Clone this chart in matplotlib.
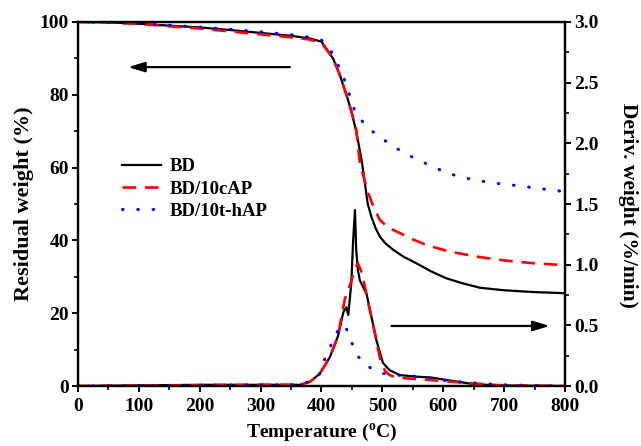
import matplotlib
matplotlib.use("Agg")
import matplotlib.pyplot as plt
from matplotlib.ticker import MultipleLocator

plt.rcParams['font.family'] = ['Liberation Serif', 'DejaVu Serif']
plt.rcParams['font.weight'] = 'bold'
plt.rcParams['mathtext.fontset'] = 'custom'
plt.rcParams['mathtext.rm'] = 'Liberation Serif:bold'
plt.rcParams['mathtext.bf'] = 'Liberation Serif:bold'

series_names = ["BD", "BD/10cAP", "BD/10t-hAP"]

# TGA residual weight (%)
bd_w_T = [0, 50, 100, 150, 200, 250, 300, 350, 380, 400, 419, 430, 441, 449, 457, 466, 471, 476, 482, 489, 496, 505, 518, 535, 556, 580, 605, 630, 660, 700, 750, 800]
bd_w = [100, 99.9, 99.5, 99.0, 98.5, 97.8, 97.0, 96.2, 95.5, 94.6, 90.0, 85.5, 80.0, 75.5, 70.0, 62.0, 56.0, 50.0, 46.5, 43.3, 41.0, 39.2, 37.4, 35.5, 33.7, 31.5, 29.6, 28.3, 27.0, 26.3, 25.8, 25.5]

cap_w_T = [0, 50, 100, 150, 200, 250, 300, 350, 380, 400, 419, 430, 441, 449, 457, 463, 470, 477, 486, 496, 510, 529, 550, 573, 611, 657, 700, 750, 800]
cap_w = [100, 99.9, 99.5, 98.8, 98.2, 97.4, 96.6, 95.8, 95.2, 94.3, 90.0, 85.5, 80.0, 75.5, 70.5, 61.2, 57.0, 52.9, 49.0, 45.6, 43.5, 42.0, 40.3, 38.7, 36.9, 35.5, 34.5, 33.7, 33.2]

thap_w_T = [0, 50, 100, 150, 200, 250, 300, 350, 380, 400, 414, 425, 436, 447, 455, 465, 474, 499, 523, 548, 573, 597, 622, 646, 680, 714, 760, 800]
thap_w = [100, 99.9, 99.6, 99.1, 98.6, 98.0, 97.3, 96.5, 95.8, 95.0, 92.5, 89.0, 85.0, 79.5, 75.4, 73.2, 71.2, 68.0, 65.3, 63.0, 61.0, 59.2, 57.7, 56.8, 55.8, 55.2, 54.2, 53.4]

# DTG derivative weight (%/min)
bd_d_T = [0, 100, 200, 300, 350, 365, 381, 397, 414, 427, 436, 441, 444, 449, 452, 455, 457, 460, 463, 468, 474, 482, 490, 501, 512, 529, 556, 580, 605, 644, 676, 720, 800]
bd_d = [0, 0.005, 0.01, 0.01, 0.01, 0.01, 0.035, 0.10, 0.24, 0.41, 0.61, 0.65, 0.585, 0.85, 1.20, 1.45, 1.12, 0.95, 0.87, 0.82, 0.76, 0.57, 0.38, 0.19, 0.13, 0.09, 0.077, 0.07, 0.05, 0.02, 0.008, 0.003, 0.0]

cap_d_T = [0, 300, 365, 381, 397, 414, 427, 438, 448, 455, 460, 465, 470, 477, 483, 488, 493, 498, 505, 512, 523, 540, 578, 633, 688, 800]
cap_d = [0, 0.01, 0.01, 0.035, 0.10, 0.24, 0.41, 0.71, 0.85, 0.97, 1.01, 0.95, 0.85, 0.68, 0.55, 0.43, 0.30, 0.19, 0.12, 0.09, 0.07, 0.063, 0.05, 0.027, 0.008, 0.0]

thap_d_T = [0, 300, 365, 381, 397, 406, 416, 425, 433, 438, 443, 447, 452, 457, 465, 477, 488, 498, 523, 550, 580, 605, 633, 660, 690, 714, 800]
thap_d = [0, 0.01, 0.01, 0.04, 0.10, 0.23, 0.34, 0.44, 0.50, 0.50, 0.45, 0.39, 0.33, 0.27, 0.21, 0.16, 0.13, 0.105, 0.09, 0.082, 0.065, 0.044, 0.032, 0.022, 0.012, 0.008, 0.0]

fig = plt.figure(figsize=(6.41, 4.46), dpi=100)
ax = fig.add_axes([0.1217, 0.1345, 0.7597, 0.8162])
ax2 = ax.twinx()

red_dash = (0, (5.2, 3.3))
blue_dot = (0, (0.2, 4.8))

l1, = ax.plot(bd_w_T, bd_w, color='black', lw=1.6, label=series_names[0])
l2, = ax.plot(cap_w_T, cap_w, color='#ff0000', lw=1.9, linestyle=red_dash, label=series_names[1])
l3, = ax.plot(thap_w_T, thap_w, color='#0000ff', lw=2.2, linestyle=blue_dot, dash_capstyle='round', label=series_names[2])

ax2.plot(bd_d_T, bd_d, color='black', lw=1.6)
ax2.plot(cap_d_T, cap_d, color='#ff0000', lw=1.9, linestyle=red_dash)
ax2.plot(thap_d_T, thap_d, color='#0000ff', lw=2.2, linestyle=blue_dot, dash_capstyle='round')

ax.set_xlim(0, 800)
ax.set_ylim(0, 100)
ax2.set_ylim(0, 3.0)

ax.xaxis.set_major_locator(MultipleLocator(100))
ax.xaxis.set_minor_locator(MultipleLocator(50))
ax.yaxis.set_major_locator(MultipleLocator(20))
ax.yaxis.set_minor_locator(MultipleLocator(10))
ax2.yaxis.set_major_locator(MultipleLocator(0.5))
ax2.yaxis.set_minor_locator(MultipleLocator(0.25))
ax2.set_yticks([0, 0.5, 1.0, 1.5, 2.0, 2.5, 3.0])
ax2.set_yticklabels(["0.0", "0.5", "1.0", "1.5", "2.0", "2.5", "3.0"])

for a in (ax, ax2):
    for s in a.spines.values():
        s.set_linewidth(1.6)
    a.tick_params(which='major', direction='out', length=4.5, width=1.4, labelsize=14, pad=2)
    a.tick_params(which='minor', direction='out', length=3, width=1.2)
ax.tick_params(axis='y', which='both', right=False)
ax.tick_params(axis='x', which='both', top=False)
ax.tick_params(axis='x', which='major', pad=4)

ax.set_xlabel("Temperature ($^{\\rm o}$C)", fontsize=14, fontweight='bold', labelpad=5)
ax.set_ylabel("Residual weight (%)", fontsize=16, fontweight='bold', va='center')
ax.yaxis.set_label_coords(-0.11, 0.5)
fig.text(0.979, 0.54, "Deriv. weight (%/min)", rotation=270, ha='center', va='center',
         fontsize=15.5, fontweight='bold')

# arrows
ax.annotate("", xy=(82, 87.6), xytext=(348, 87.6),
            arrowprops=dict(arrowstyle='-|>,head_length=1.0,head_width=0.3', color='black', lw=1.6, shrinkA=0, shrinkB=0))
ax.annotate("", xy=(775, 16.5), xytext=(515, 16.5),
            arrowprops=dict(arrowstyle='-|>,head_length=1.0,head_width=0.3', color='black', lw=1.6, shrinkA=0, shrinkB=0))

leg = ax.legend(handles=[l1, l2, l3], loc='upper left', bbox_to_anchor=(0.09, 0.626),
                frameon=False, fontsize=13.5, handlelength=2.1, labelspacing=0.28,
                handletextpad=0.45, borderpad=0, borderaxespad=0)
for t in leg.get_texts():
    t.set_fontweight('bold')

fig.savefig("out.png", dpi=100)
